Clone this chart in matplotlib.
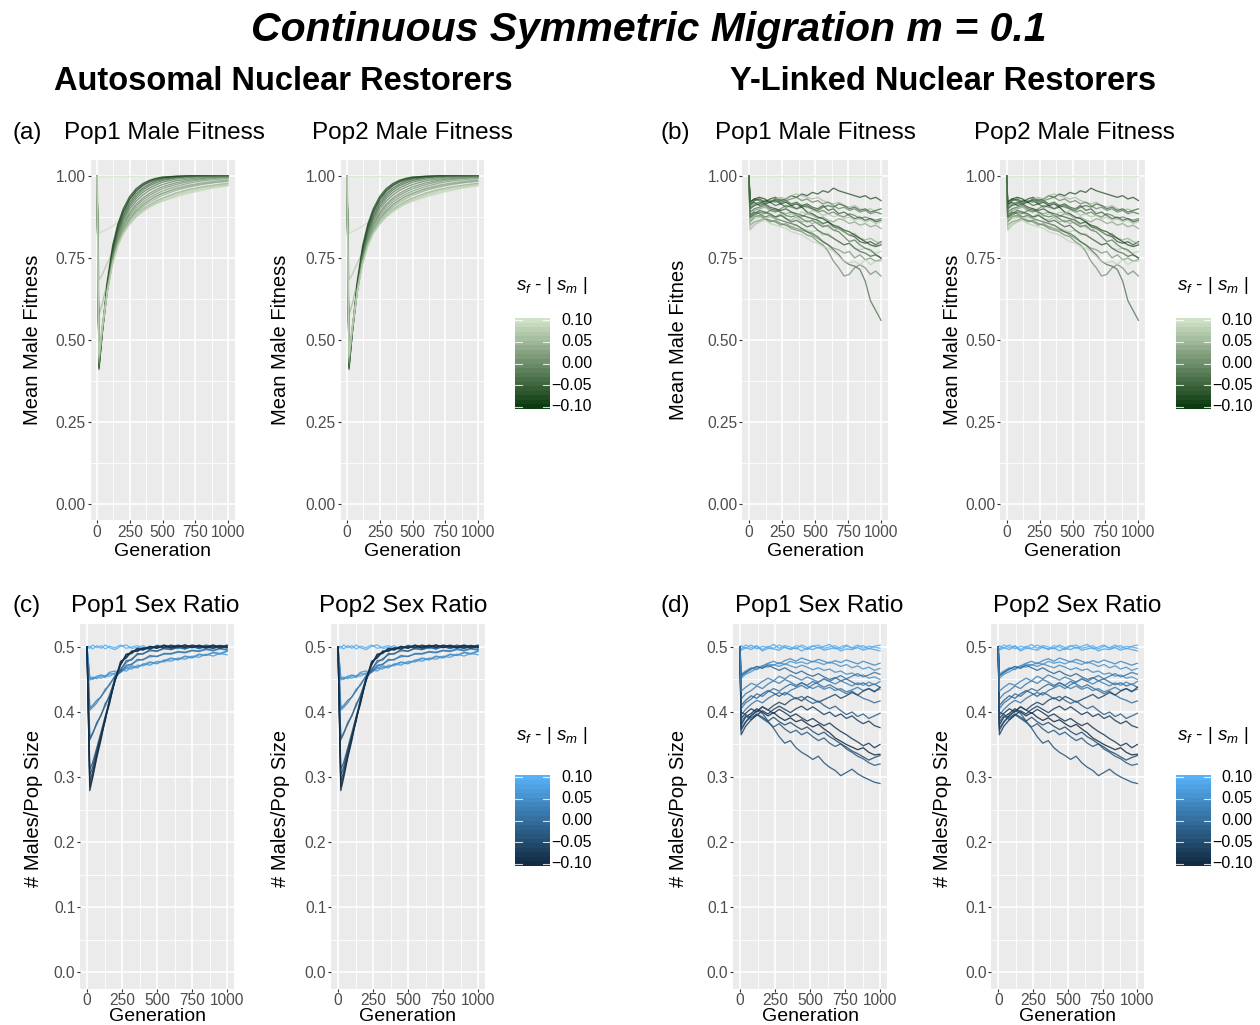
import numpy as np
import matplotlib
matplotlib.use('Agg')
import matplotlib.pyplot as plt
from matplotlib.colors import LinearSegmentedColormap, Normalize

plt.rcParams['font.family'] = ['Liberation Sans', 'DejaVu Sans']
plt.rcParams['mathtext.fontset'] = 'custom'
plt.rcParams['mathtext.rm'] = 'Liberation Sans'
plt.rcParams['mathtext.it'] = 'Liberation Sans:italic'

# ---------------- data ----------------
# (a) autosomal restorers, mean male fitness
GEN_A = [0, 15, 40, 80, 120, 160, 200, 250, 300, 350, 400, 450, 500, 600, 700, 800, 900, 1000]
S_A = [0.10, 0.09, 0.06, 0.04, -0.10, -0.09, -0.08, -0.06, -0.05, -0.03,
       -0.02, -0.01, 0.00, 0.01, 0.02, 0.03, 0.05, 0.07, 0.08]
FIT_A = [
    [1.00, 1.00, 1.00, 1.00, 1.00, 1.00, 1.00, 1.00, 1.00, 1.00, 1.00, 1.00, 1.00, 1.00, 1.00, 1.00, 1.00, 1.00],
    [1.00, 0.826, 0.830, 0.838, 0.848, 0.858, 0.868, 0.880, 0.891, 0.900, 0.908, 0.916, 0.923, 0.936, 0.947, 0.956, 0.964, 0.970],
    [1.00, 0.683, 0.700, 0.735, 0.770, 0.800, 0.828, 0.855, 0.877, 0.895, 0.910, 0.922, 0.932, 0.947, 0.958, 0.966, 0.972, 0.977],
    [1.00, 0.576, 0.610, 0.680, 0.745, 0.795, 0.835, 0.870, 0.895, 0.913, 0.927, 0.938, 0.947, 0.960, 0.969, 0.976, 0.981, 0.985],
    [1.00, 0.415, 0.530, 0.685, 0.790, 0.855, 0.900, 0.938, 0.962, 0.977, 0.987, 0.993, 0.997, 0.999, 1.000, 1.000, 1.000, 1.000],
    [1.00, 0.420, 0.525, 0.675, 0.780, 0.848, 0.893, 0.932, 0.957, 0.973, 0.984, 0.991, 0.995, 0.999, 1.000, 1.000, 1.000, 1.000],
    [1.00, 0.410, 0.520, 0.670, 0.775, 0.842, 0.888, 0.928, 0.953, 0.970, 0.981, 0.988, 0.993, 0.998, 1.000, 1.000, 1.000, 1.000],
    [1.00, 0.425, 0.525, 0.668, 0.770, 0.836, 0.880, 0.920, 0.946, 0.963, 0.975, 0.984, 0.990, 0.996, 0.999, 1.000, 1.000, 1.000],
    [1.00, 0.430, 0.528, 0.665, 0.765, 0.830, 0.874, 0.913, 0.939, 0.957, 0.970, 0.979, 0.986, 0.994, 0.998, 0.999, 1.000, 1.000],
    [1.00, 0.418, 0.520, 0.660, 0.760, 0.825, 0.868, 0.906, 0.932, 0.950, 0.963, 0.973, 0.981, 0.990, 0.995, 0.998, 0.999, 1.000],
    [1.00, 0.435, 0.530, 0.662, 0.758, 0.820, 0.862, 0.899, 0.924, 0.942, 0.956, 0.966, 0.974, 0.985, 0.991, 0.995, 0.997, 0.998],
    [1.00, 0.440, 0.532, 0.660, 0.752, 0.813, 0.854, 0.890, 0.915, 0.933, 0.947, 0.958, 0.967, 0.979, 0.987, 0.992, 0.995, 0.997],
    [1.00, 0.428, 0.524, 0.652, 0.746, 0.808, 0.849, 0.885, 0.909, 0.927, 0.941, 0.952, 0.961, 0.974, 0.983, 0.989, 0.993, 0.995],
    [1.00, 0.445, 0.535, 0.658, 0.748, 0.806, 0.845, 0.879, 0.902, 0.920, 0.934, 0.945, 0.954, 0.968, 0.978, 0.985, 0.989, 0.992],
    [1.00, 0.450, 0.538, 0.657, 0.744, 0.800, 0.838, 0.871, 0.894, 0.912, 0.926, 0.938, 0.947, 0.962, 0.972, 0.979, 0.984, 0.988],
    [1.00, 0.438, 0.530, 0.650, 0.738, 0.795, 0.833, 0.866, 0.889, 0.906, 0.920, 0.931, 0.941, 0.956, 0.966, 0.974, 0.980, 0.984],
    [1.00, 0.455, 0.540, 0.655, 0.740, 0.794, 0.830, 0.861, 0.883, 0.900, 0.913, 0.924, 0.933, 0.948, 0.959, 0.967, 0.973, 0.978],
    [1.00, 0.460, 0.543, 0.654, 0.736, 0.789, 0.825, 0.856, 0.878, 0.895, 0.908, 0.919, 0.928, 0.943, 0.954, 0.963, 0.969, 0.974],
    [1.00, 0.448, 0.536, 0.650, 0.733, 0.787, 0.823, 0.853, 0.875, 0.891, 0.904, 0.915, 0.924, 0.939, 0.950, 0.959, 0.966, 0.972],
]

# (b) Y-linked restorers, mean male fitness
GEN_B = [0, 8, 40, 80, 120, 160, 200, 240, 280, 320, 360, 400, 440, 480,
         520, 560, 600, 640, 680, 720, 760, 800, 840, 880, 920, 960, 1000]
S_B = [0.10, -0.09, 0.05, -0.06, 0.02, -0.03, 0.07, -0.08, -0.04, 0.00,
       -0.05, -0.01, 0.08, -0.07, 0.03, -0.10, 0.06, -0.02, -0.06]
FIT_B = [
    [1.00, 1.00, 1.00, 1.00, 1.00, 1.00, 1.00, 1.00, 1.00, 1.00, 1.00, 1.00, 1.00, 1.00, 1.00, 1.00, 1.00, 1.00, 1.00, 1.00, 1.00, 1.00, 1.00, 1.00, 1.00, 1.00, 1.00],
    [1.00, 0.91, 0.925, 0.93, 0.92, 0.93, 0.935, 0.925, 0.93, 0.94, 0.935, 0.945, 0.94, 0.95, 0.945, 0.955, 0.95, 0.963, 0.955, 0.95, 0.945, 0.94, 0.935, 0.94, 0.93, 0.935, 0.925],
    [1.00, 0.90, 0.91, 0.92, 0.915, 0.92, 0.93, 0.935, 0.93, 0.94, 0.945, 0.94, 0.935, 0.93, 0.935, 0.925, 0.92, 0.915, 0.92, 0.91, 0.905, 0.91, 0.90, 0.895, 0.90, 0.89, 0.885],
    [1.00, 0.92, 0.93, 0.925, 0.915, 0.92, 0.91, 0.915, 0.905, 0.91, 0.90, 0.905, 0.91, 0.90, 0.895, 0.905, 0.91, 0.905, 0.915, 0.91, 0.90, 0.905, 0.895, 0.90, 0.89, 0.895, 0.90],
    [1.00, 0.88, 0.895, 0.90, 0.905, 0.895, 0.90, 0.89, 0.885, 0.89, 0.88, 0.875, 0.885, 0.88, 0.87, 0.875, 0.865, 0.86, 0.87, 0.865, 0.855, 0.86, 0.85, 0.855, 0.845, 0.85, 0.84],
    [1.00, 0.87, 0.88, 0.89, 0.885, 0.895, 0.89, 0.90, 0.91, 0.905, 0.90, 0.91, 0.905, 0.90, 0.89, 0.895, 0.885, 0.89, 0.88, 0.875, 0.885, 0.88, 0.87, 0.875, 0.87, 0.865, 0.87],
    [1.00, 0.86, 0.87, 0.875, 0.87, 0.865, 0.86, 0.855, 0.85, 0.845, 0.85, 0.84, 0.835, 0.83, 0.835, 0.82, 0.825, 0.81, 0.80, 0.79, 0.795, 0.78, 0.775, 0.78, 0.77, 0.765, 0.77],
    [1.00, 0.915, 0.92, 0.91, 0.915, 0.905, 0.90, 0.895, 0.90, 0.89, 0.885, 0.88, 0.875, 0.87, 0.865, 0.855, 0.86, 0.845, 0.84, 0.83, 0.82, 0.815, 0.80, 0.795, 0.80, 0.79, 0.80],
    [1.00, 0.89, 0.90, 0.905, 0.91, 0.90, 0.895, 0.89, 0.88, 0.875, 0.88, 0.87, 0.86, 0.865, 0.855, 0.845, 0.85, 0.835, 0.83, 0.815, 0.80, 0.805, 0.79, 0.78, 0.775, 0.76, 0.75],
    [1.00, 0.85, 0.86, 0.865, 0.87, 0.865, 0.86, 0.85, 0.855, 0.845, 0.84, 0.835, 0.83, 0.82, 0.81, 0.80, 0.79, 0.78, 0.775, 0.765, 0.77, 0.75, 0.76, 0.745, 0.75, 0.74, 0.745],
    [1.00, 0.88, 0.89, 0.885, 0.875, 0.88, 0.87, 0.865, 0.86, 0.855, 0.85, 0.84, 0.83, 0.825, 0.815, 0.80, 0.79, 0.775, 0.76, 0.74, 0.73, 0.725, 0.715, 0.68, 0.62, 0.59, 0.56],
    [1.00, 0.86, 0.875, 0.88, 0.87, 0.86, 0.865, 0.855, 0.85, 0.84, 0.835, 0.83, 0.82, 0.815, 0.80, 0.79, 0.77, 0.74, 0.72, 0.695, 0.70, 0.72, 0.73, 0.72, 0.70, 0.71, 0.695],
    [1.00, 0.84, 0.855, 0.86, 0.865, 0.855, 0.85, 0.845, 0.84, 0.83, 0.825, 0.82, 0.81, 0.80, 0.795, 0.785, 0.78, 0.77, 0.755, 0.74, 0.735, 0.74, 0.73, 0.745, 0.73, 0.74, 0.74],
    [1.00, 0.90, 0.91, 0.915, 0.925, 0.92, 0.93, 0.92, 0.925, 0.915, 0.92, 0.91, 0.915, 0.905, 0.90, 0.91, 0.895, 0.90, 0.885, 0.89, 0.88, 0.87, 0.875, 0.865, 0.87, 0.86, 0.865],
    [1.00, 0.87, 0.885, 0.875, 0.89, 0.88, 0.875, 0.885, 0.87, 0.865, 0.875, 0.86, 0.865, 0.855, 0.86, 0.85, 0.845, 0.835, 0.84, 0.83, 0.82, 0.825, 0.81, 0.805, 0.81, 0.80, 0.795],
    [1.00, 0.92, 0.93, 0.935, 0.93, 0.92, 0.925, 0.915, 0.92, 0.91, 0.915, 0.905, 0.89, 0.885, 0.875, 0.87, 0.86, 0.85, 0.845, 0.835, 0.83, 0.82, 0.81, 0.80, 0.79, 0.785, 0.79],
    [1.00, 0.835, 0.85, 0.86, 0.87, 0.875, 0.87, 0.88, 0.875, 0.885, 0.88, 0.89, 0.885, 0.895, 0.89, 0.88, 0.885, 0.875, 0.88, 0.87, 0.875, 0.865, 0.87, 0.86, 0.865, 0.855, 0.86],
    [1.00, 0.905, 0.915, 0.92, 0.915, 0.925, 0.92, 0.93, 0.925, 0.93, 0.935, 0.925, 0.93, 0.92, 0.925, 0.915, 0.92, 0.91, 0.90, 0.905, 0.895, 0.90, 0.89, 0.895, 0.885, 0.89, 0.885],
    [1.00, 0.875, 0.885, 0.895, 0.89, 0.885, 0.875, 0.88, 0.87, 0.86, 0.865, 0.855, 0.845, 0.85, 0.835, 0.825, 0.82, 0.81, 0.80, 0.79, 0.795, 0.78, 0.77, 0.765, 0.755, 0.76, 0.75],
]

# (c) autosomal restorers, sex ratio
GEN_C = [0, 20, 40, 70, 100, 130, 160, 200, 240, 280, 320, 360, 400, 450,
         500, 550, 600, 650, 700, 750, 800, 850, 900, 950, 1000]
S_C = [0.10, 0.09, 0.07, 0.06, 0.05, 0.03, 0.01, 0.00, -0.02, -0.04, -0.06, -0.08, -0.10, -0.09]
SR_C = [
    [0.500, 0.498, 0.503, 0.499, 0.502, 0.497, 0.501, 0.499, 0.503, 0.498, 0.500, 0.502, 0.497, 0.501, 0.499, 0.503, 0.498, 0.501, 0.499, 0.502, 0.497, 0.501, 0.503, 0.499, 0.501],
    [0.500, 0.501, 0.497, 0.502, 0.498, 0.503, 0.499, 0.496, 0.501, 0.503, 0.498, 0.499, 0.502, 0.497, 0.503, 0.500, 0.502, 0.497, 0.503, 0.499, 0.501, 0.498, 0.500, 0.503, 0.497],
    [0.500, 0.452, 0.450, 0.454, 0.452, 0.456, 0.455, 0.460, 0.462, 0.468, 0.466, 0.472, 0.471, 0.476, 0.474, 0.480, 0.478, 0.483, 0.481, 0.486, 0.484, 0.489, 0.486, 0.490, 0.488],
    [0.500, 0.449, 0.454, 0.451, 0.456, 0.453, 0.459, 0.458, 0.465, 0.463, 0.469, 0.468, 0.474, 0.472, 0.478, 0.477, 0.482, 0.480, 0.485, 0.483, 0.488, 0.487, 0.491, 0.489, 0.493],
    [0.500, 0.453, 0.451, 0.455, 0.457, 0.455, 0.461, 0.463, 0.461, 0.467, 0.471, 0.469, 0.473, 0.477, 0.475, 0.479, 0.483, 0.481, 0.486, 0.484, 0.489, 0.487, 0.492, 0.490, 0.494],
    [0.500, 0.403, 0.407, 0.414, 0.424, 0.432, 0.443, 0.454, 0.463, 0.470, 0.474, 0.479, 0.481, 0.485, 0.486, 0.489, 0.489, 0.492, 0.491, 0.494, 0.493, 0.496, 0.494, 0.497, 0.495],
    [0.500, 0.406, 0.410, 0.418, 0.423, 0.435, 0.441, 0.456, 0.461, 0.472, 0.473, 0.481, 0.480, 0.487, 0.485, 0.490, 0.490, 0.493, 0.492, 0.495, 0.494, 0.497, 0.495, 0.498, 0.496],
    [0.500, 0.360, 0.368, 0.381, 0.396, 0.409, 0.426, 0.449, 0.466, 0.476, 0.482, 0.488, 0.490, 0.494, 0.494, 0.497, 0.496, 0.499, 0.497, 0.500, 0.498, 0.501, 0.498, 0.500, 0.499],
    [0.500, 0.357, 0.366, 0.384, 0.394, 0.413, 0.423, 0.452, 0.464, 0.479, 0.480, 0.490, 0.489, 0.496, 0.493, 0.499, 0.496, 0.500, 0.497, 0.502, 0.498, 0.501, 0.499, 0.502, 0.500],
    [0.500, 0.312, 0.322, 0.345, 0.369, 0.393, 0.418, 0.452, 0.474, 0.486, 0.492, 0.495, 0.498, 0.497, 0.501, 0.498, 0.502, 0.499, 0.503, 0.500, 0.501, 0.498, 0.502, 0.500, 0.503],
    [0.500, 0.303, 0.315, 0.341, 0.365, 0.392, 0.414, 0.450, 0.472, 0.488, 0.490, 0.497, 0.495, 0.500, 0.498, 0.502, 0.499, 0.503, 0.500, 0.502, 0.499, 0.503, 0.500, 0.502, 0.499],
    [0.500, 0.285, 0.302, 0.332, 0.361, 0.388, 0.416, 0.447, 0.476, 0.484, 0.494, 0.493, 0.499, 0.497, 0.502, 0.499, 0.503, 0.500, 0.502, 0.499, 0.503, 0.500, 0.502, 0.498, 0.501],
    [0.500, 0.279, 0.298, 0.330, 0.357, 0.390, 0.412, 0.451, 0.473, 0.489, 0.491, 0.498, 0.496, 0.501, 0.498, 0.503, 0.500, 0.502, 0.499, 0.503, 0.501, 0.499, 0.503, 0.500, 0.502],
    [0.500, 0.293, 0.308, 0.336, 0.363, 0.386, 0.419, 0.448, 0.478, 0.483, 0.493, 0.495, 0.497, 0.500, 0.500, 0.502, 0.498, 0.501, 0.503, 0.499, 0.502, 0.500, 0.498, 0.502, 0.500],
]

# (d) Y-linked restorers, sex ratio
GEN_D = GEN_B
S_D = [0.10, 0.09, 0.08, 0.06, 0.05, 0.04, -0.01, 0.02, -0.08, -0.04,
       -0.10, 0.00, -0.06, 0.01, -0.03, -0.07, -0.02, -0.05, 0.03]
SR_D = [
    [0.500, 0.497, 0.503, 0.499, 0.502, 0.496, 0.501, 0.498, 0.503, 0.499, 0.497, 0.502, 0.500, 0.496, 0.501, 0.503, 0.498, 0.500, 0.502, 0.497, 0.501, 0.499, 0.503, 0.498, 0.501, 0.500, 0.498],
    [0.500, 0.502, 0.498, 0.503, 0.497, 0.501, 0.499, 0.504, 0.498, 0.502, 0.500, 0.497, 0.503, 0.499, 0.502, 0.498, 0.501, 0.504, 0.497, 0.500, 0.503, 0.498, 0.500, 0.502, 0.497, 0.501, 0.503],
    [0.500, 0.495, 0.499, 0.496, 0.501, 0.494, 0.498, 0.497, 0.495, 0.500, 0.496, 0.499, 0.494, 0.498, 0.496, 0.500, 0.495, 0.497, 0.499, 0.494, 0.497, 0.496, 0.499, 0.495, 0.498, 0.496, 0.494],
    [0.500, 0.455, 0.460, 0.466, 0.470, 0.468, 0.474, 0.472, 0.476, 0.473, 0.478, 0.475, 0.477, 0.474, 0.478, 0.476, 0.473, 0.477, 0.474, 0.470, 0.473, 0.468, 0.471, 0.466, 0.469, 0.464, 0.467],
    [0.500, 0.452, 0.458, 0.462, 0.467, 0.471, 0.469, 0.473, 0.470, 0.474, 0.471, 0.468, 0.472, 0.469, 0.465, 0.468, 0.464, 0.466, 0.461, 0.463, 0.458, 0.460, 0.455, 0.457, 0.452, 0.454, 0.450],
    [0.500, 0.458, 0.463, 0.468, 0.465, 0.471, 0.475, 0.478, 0.474, 0.479, 0.482, 0.478, 0.483, 0.480, 0.477, 0.481, 0.478, 0.475, 0.479, 0.476, 0.480, 0.477, 0.474, 0.478, 0.475, 0.472, 0.475],
    [0.500, 0.456, 0.461, 0.466, 0.470, 0.467, 0.472, 0.468, 0.464, 0.468, 0.463, 0.459, 0.463, 0.458, 0.455, 0.459, 0.454, 0.450, 0.453, 0.448, 0.451, 0.446, 0.442, 0.445, 0.440, 0.443, 0.438],
    [0.500, 0.420, 0.428, 0.433, 0.440, 0.436, 0.443, 0.448, 0.444, 0.450, 0.446, 0.441, 0.445, 0.440, 0.436, 0.440, 0.435, 0.438, 0.433, 0.436, 0.431, 0.434, 0.438, 0.433, 0.436, 0.432, 0.435],
    [0.500, 0.390, 0.398, 0.405, 0.400, 0.408, 0.403, 0.398, 0.404, 0.399, 0.393, 0.397, 0.391, 0.386, 0.390, 0.384, 0.379, 0.383, 0.376, 0.370, 0.365, 0.359, 0.354, 0.348, 0.352, 0.345, 0.350],
    [0.500, 0.375, 0.385, 0.395, 0.402, 0.398, 0.386, 0.375, 0.362, 0.352, 0.356, 0.345, 0.338, 0.333, 0.327, 0.332, 0.322, 0.315, 0.310, 0.302, 0.307, 0.312, 0.305, 0.300, 0.296, 0.292, 0.290],
    [0.500, 0.380, 0.392, 0.398, 0.405, 0.400, 0.394, 0.399, 0.392, 0.387, 0.391, 0.385, 0.388, 0.382, 0.377, 0.381, 0.374, 0.368, 0.360, 0.355, 0.350, 0.346, 0.342, 0.345, 0.338, 0.334, 0.335],
    [0.500, 0.405, 0.414, 0.420, 0.428, 0.424, 0.431, 0.436, 0.432, 0.438, 0.443, 0.439, 0.445, 0.441, 0.447, 0.443, 0.438, 0.442, 0.437, 0.433, 0.428, 0.432, 0.426, 0.421, 0.418, 0.414, 0.417],
    [0.500, 0.372, 0.384, 0.394, 0.401, 0.408, 0.403, 0.410, 0.415, 0.411, 0.418, 0.422, 0.417, 0.424, 0.420, 0.415, 0.419, 0.423, 0.427, 0.421, 0.425, 0.430, 0.426, 0.432, 0.436, 0.431, 0.438],
    [0.500, 0.395, 0.404, 0.412, 0.418, 0.414, 0.421, 0.426, 0.430, 0.426, 0.433, 0.437, 0.441, 0.436, 0.442, 0.446, 0.451, 0.447, 0.452, 0.456, 0.451, 0.455, 0.459, 0.454, 0.457, 0.461, 0.458],
    [0.500, 0.385, 0.394, 0.388, 0.396, 0.390, 0.384, 0.377, 0.382, 0.374, 0.368, 0.372, 0.365, 0.369, 0.362, 0.356, 0.360, 0.352, 0.347, 0.351, 0.343, 0.338, 0.332, 0.328, 0.322, 0.318, 0.320],
    [0.500, 0.365, 0.378, 0.388, 0.395, 0.402, 0.397, 0.404, 0.409, 0.404, 0.399, 0.405, 0.409, 0.403, 0.408, 0.402, 0.396, 0.400, 0.393, 0.397, 0.390, 0.394, 0.387, 0.382, 0.386, 0.379, 0.376],
    [0.500, 0.410, 0.418, 0.425, 0.421, 0.428, 0.433, 0.429, 0.424, 0.430, 0.426, 0.420, 0.424, 0.418, 0.413, 0.417, 0.410, 0.405, 0.409, 0.402, 0.396, 0.400, 0.393, 0.397, 0.390, 0.394, 0.398],
    [0.500, 0.400, 0.396, 0.391, 0.397, 0.392, 0.386, 0.392, 0.385, 0.380, 0.384, 0.378, 0.373, 0.377, 0.370, 0.365, 0.369, 0.362, 0.357, 0.351, 0.346, 0.340, 0.336, 0.331, 0.326, 0.330, 0.333],
    [0.500, 0.432, 0.438, 0.444, 0.441, 0.447, 0.452, 0.448, 0.455, 0.451, 0.457, 0.453, 0.449, 0.454, 0.450, 0.446, 0.451, 0.447, 0.443, 0.448, 0.444, 0.440, 0.445, 0.441, 0.446, 0.442, 0.447],
]

X_TICKS = [0, 250, 500, 750, 1000]
FIT_TICKS = [0.00, 0.25, 0.50, 0.75, 1.00]
SR_TICKS = [0.0, 0.1, 0.2, 0.3, 0.4, 0.5]
LEG_TICKS = [0.10, 0.05, 0.00, -0.05, -0.10]
LEG_LABELS = ['0.10', '0.05', '0.00', '\u22120.05', '\u22120.10']

# ---------------- figure ----------------
W, H = 1260, 1025
fig = plt.figure(figsize=(W / 100, H / 100), dpi=100)
fig.patch.set_facecolor('white')

green = LinearSegmentedColormap.from_list('grn', ['#0d3b10', '#cfe2c6'])
blue = LinearSegmentedColormap.from_list('blu', ['#132B43', '#56B1F7'])
norm = Normalize(-0.1, 0.1)


def px_axes(l, t, r, b):
    return fig.add_axes([l / W, 1 - b / H, (r - l) / W, (b - t) / H])


def px_text(x, y, s, **kw):
    fig.text(x / W, 1 - y / H, s, **kw)


def panel(l, t, r, b, gens, series, svals, cmap, ylim, yticks, fmt, alpha):
    ax = px_axes(l, t, r, b)
    ax.set_facecolor('#EBEBEB')
    for s, ys in zip(svals, series):
        ax.plot(gens, ys, color=cmap(norm(s)), lw=0.95, alpha=alpha, solid_joinstyle='round')
    ax.set_xlim(-50, 1050)
    ax.set_ylim(*ylim)
    ax.set_xticks(X_TICKS)
    ax.set_xticks([125, 375, 625, 875], minor=True)
    ax.set_yticks(yticks)
    ax.set_yticklabels([fmt.format(v) for v in yticks])
    step = yticks[1] - yticks[0]
    ax.set_yticks([v + step / 2 for v in yticks[:-1]], minor=True)
    ax.grid(which='major', color='white', lw=1.2)
    ax.grid(which='minor', color='white', lw=0.6)
    ax.set_axisbelow(True)
    for sp in ax.spines.values():
        sp.set_visible(False)
    ax.tick_params(which='major', length=2.2, width=0.8, color='#333333',
                   labelsize=11.2, labelcolor='#4D4D4D', pad=1.2)
    ax.tick_params(which='minor', length=0)
    return ax


def legend(l, t, cmap, title_y):
    lim = 0.1046
    ax = px_axes(l, t, l + 35, t + 91)
    grad = np.linspace(-0.1, 0.1, 20).reshape(-1, 1)
    ax.imshow(grad, cmap=cmap, norm=norm, origin='lower', aspect='auto',
              extent=[0, 1, -lim, lim], interpolation='nearest')
    for v in LEG_TICKS:
        ax.plot([0, 0.2], [v, v], color='white', lw=0.8, alpha=0.8)
        ax.plot([0.8, 1], [v, v], color='white', lw=0.8, alpha=0.8)
    ax.set_xlim(0, 1)
    ax.set_ylim(-lim, lim)
    ax.axis('off')
    for v, lab in zip(LEG_TICKS, LEG_LABELS):
        y = t + (lim - v) / (2 * lim) * 91
        px_text(l + 77, y, lab, ha='right', va='center', size=11.5, color='black')
    px_text(l + 1, title_y, r'$s_f$ - | $s_m$ |', ha='left', va='center', size=13.5)


# titles
px_text(649, 30, 'Continuous Symmetric Migration m = 0.1', ha='center', va='center',
        size=29.5, weight='bold', style='italic')
px_text(283.5, 82, 'Autosomal Nuclear Restorers', ha='center', va='center', size=23.5, weight='bold')
px_text(943.5, 82, 'Y-Linked Nuclear Restorers', ha='center', va='center', size=23.5, weight='bold')

row1 = (159.6, 520.4)
row2 = (623.9, 988.6)
fit_lim = (-0.05, 1.05)
sr_lim = (-0.0255, 0.5355)

# top row: male fitness
for (l, r), gens, data, svals, cmap in [
        ((90.5, 234.5), GEN_A, FIT_A, S_A, green),
        ((340.5, 484.5), GEN_A, FIT_A, S_A, green),
        ((742.4, 887.6), GEN_B, FIT_B, S_B, green),
        ((1000.1, 1145.0), GEN_B, FIT_B, S_B, green)]:
    panel(l, row1[0], r, row1[1], gens, data, svals, cmap, fit_lim, FIT_TICKS, '{:.2f}', 0.7)
    px_text((l + r) / 2, 551, 'Generation', ha='center', va='center', size=14)

# bottom row: sex ratio
for (l, r), gens, data, svals, cmap in [
        ((80.0, 234.0), GEN_C, SR_C, S_C, blue),
        ((331.0, 485.0), GEN_C, SR_C, S_C, blue),
        ((733.0, 887.0), GEN_D, SR_D, S_D, blue),
        ((991.3, 1144.3), GEN_D, SR_D, S_D, blue)]:
    panel(l, row2[0], r, row2[1], gens, data, svals, cmap, sr_lim, SR_TICKS, '{:.1f}', 0.85)
    px_text((l + r) / 2, 1025, 'Generation', ha='center', va='bottom', size=14)

# y labels
for x, lab in [(33, 'Mean Male Fitness'), (281, 'Mean Male Fitness'),
               (678, 'Mean Male Fitnes'), (952, 'Mean Male Fitness')]:
    px_text(x, 340, lab, rotation=90, ha='center', va='center', size=14.5)
for x in [34, 280, 678, 943]:
    px_text(x, 808, '# Males/Pop Size', rotation=90, ha='center', va='center', size=14.5)

# panel titles
for x, y, lab in [(12, 133, '(a)'), (660, 133, '(b)'), (12, 606, '(c)'), (660, 606, '(d)')]:
    px_text(x, y, lab, ha='left', va='center', size=17.5)
for x, lab in [(164, 'Pop1 Male Fitness'), (412, 'Pop2 Male Fitness'),
               (815, 'Pop1 Male Fitness'), (1074, 'Pop2 Male Fitness')]:
    px_text(x, 133, lab, ha='center', va='center', size=17.5)
for x, lab in [(155, 'Pop1 Sex Ratio'), (403, 'Pop2 Sex Ratio'),
               (819, 'Pop1 Sex Ratio'), (1077, 'Pop2 Sex Ratio')]:
    px_text(x, 606, lab, ha='center', va='center', size=17.5)

# colour legends
legend(515, 318, green, 285)
legend(1176, 318, green, 285)
legend(515, 775, blue, 735)
legend(1176, 775, blue, 735)

fig.savefig('out.png', dpi=100, facecolor='white')
